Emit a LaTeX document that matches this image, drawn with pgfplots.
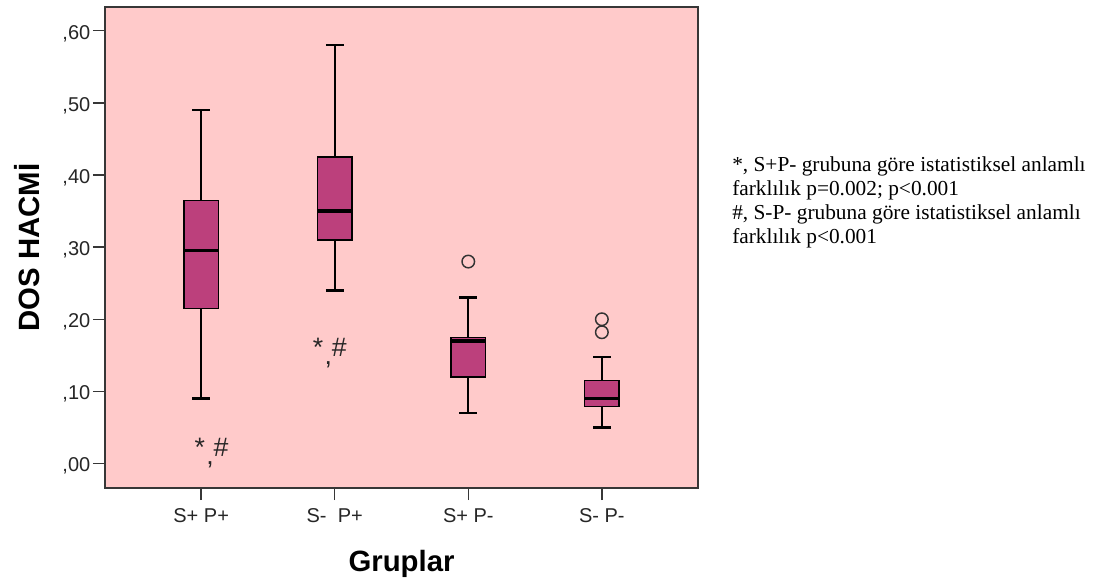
\documentclass[border=0pt]{standalone}
\usepackage{fontspec}
\setmainfont{Liberation Sans}
\newfontfamily\serifnote{Liberation Serif}
\usepackage{pgfplots}
\pgfplotsset{compat=1.18}
\definecolor{panelpink}{RGB}{255,202,202}
\definecolor{boxmagenta}{RGB}{188,64,124}
\definecolor{framegray}{RGB}{55,55,55}

\pgfplotsset{
  qbox/.style={draw=black, fill=boxmagenta, line width=1.1pt},
  qmed/.style={black, line width=2.5pt},
  qwhisk/.style={black, line width=1.8pt},
  qout/.style={only marks, mark=o, mark size=4.7pt,
    mark options={draw=black!80, fill=none, line width=1.1pt}},
}

\begin{document}
\begin{tikzpicture}
\path[use as bounding box] (0,0) rectangle (820.5pt,439.5pt);
\begin{axis}[
  at={(78.75pt,73.5pt)}, anchor=south west,
  scale only axis, width=444.75pt, height=360.75pt,
  xmin=0.28, xmax=4.72, ymin=-0.034, ymax=0.633,
  axis background/.style={fill=panelpink},
  axis line style={framegray, line width=1.1pt},
  xtick={1,2,3,4},
  xticklabels={S+ P+, S-\ \ P+, S+ P-, S- P-},
  ytick={0,0.1,0.2,0.3,0.4,0.5,0.6},
  yticklabels={{,00},{,10},{,20},{,30},{,40},{,50},{,60}},
  tick align=outside, xtick pos=bottom, ytick pos=left,
  major tick length=9pt,
  tick style={framegray, line width=1pt},
  tick label style={font=\fontsize{15}{17}\selectfont, text=black!85},
  xticklabel style={yshift=-3pt},
  yticklabel style={yshift=-2pt, xshift=1.5pt},
  xlabel={Gruplar}, ylabel={DOS HACMİ},
  every axis x label/.style={at={(axis description cs:0.5,-0.1746)}, anchor=base,
    font=\bfseries\fontsize{22}{26}\selectfont},
  every axis y label/.style={at={(axis description cs:-0.1315,0.5)}, rotate=90, anchor=center,
    font=\bfseries\fontsize{22}{26}\selectfont},
  clip=false,
]
% ---- S+ P+ : whiskers 0.09 / 0.49, quartiles 0.215 / 0.365, median 0.295
\addplot[qwhisk] coordinates {(1,0.365) (1,0.49)};
\addplot[qwhisk] coordinates {(0.934,0.49) (1.066,0.49)};
\addplot[qwhisk] coordinates {(1,0.215) (1,0.09)};
\addplot[qwhisk] coordinates {(0.934,0.09) (1.066,0.09)};
\addplot[qbox] coordinates {(0.87,0.215) (1.13,0.215) (1.13,0.365) (0.87,0.365)} -- cycle;
\addplot[qmed] coordinates {(0.87,0.295) (1.13,0.295)};
% ---- S- P+ : whiskers 0.24 / 0.58, quartiles 0.31 / 0.425, median 0.35
\addplot[qwhisk] coordinates {(2,0.425) (2,0.58)};
\addplot[qwhisk] coordinates {(1.934,0.58) (2.066,0.58)};
\addplot[qwhisk] coordinates {(2,0.31) (2,0.24)};
\addplot[qwhisk] coordinates {(1.934,0.24) (2.066,0.24)};
\addplot[qbox] coordinates {(1.87,0.31) (2.13,0.31) (2.13,0.425) (1.87,0.425)} -- cycle;
\addplot[qmed] coordinates {(1.87,0.35) (2.13,0.35)};
% ---- S+ P- : whiskers 0.07 / 0.23, quartiles 0.12 / 0.175, median 0.17
\addplot[qwhisk] coordinates {(3,0.175) (3,0.23)};
\addplot[qwhisk] coordinates {(2.934,0.23) (3.066,0.23)};
\addplot[qwhisk] coordinates {(3,0.12) (3,0.07)};
\addplot[qwhisk] coordinates {(2.934,0.07) (3.066,0.07)};
\addplot[qbox] coordinates {(2.87,0.12) (3.13,0.12) (3.13,0.175) (2.87,0.175)} -- cycle;
\addplot[qmed] coordinates {(2.87,0.17) (3.13,0.17)};
% ---- S- P- : whiskers 0.05 / 0.148, quartiles 0.079 / 0.115, median 0.09
\addplot[qwhisk] coordinates {(4,0.115) (4,0.148)};
\addplot[qwhisk] coordinates {(3.934,0.148) (4.066,0.148)};
\addplot[qwhisk] coordinates {(4,0.079) (4,0.05)};
\addplot[qwhisk] coordinates {(3.934,0.05) (4.066,0.05)};
\addplot[qbox] coordinates {(3.87,0.079) (4.13,0.079) (4.13,0.115) (3.87,0.115)} -- cycle;
\addplot[qmed] coordinates {(3.87,0.09) (4.13,0.09)};
% ---- outliers
\addplot[qout] coordinates {(3,0.28) (4,0.182) (4,0.2)};

% significance markers
\node[anchor=base, font=\fontsize{20}{22}\selectfont, text=black!85]
  at (axis cs:1.078,0.009) {*\hspace{0.05em}\raisebox{-0.3em}{,}\#};
\node[anchor=base, font=\fontsize{20}{22}\selectfont, text=black!85]
  at (axis cs:1.963,0.148) {*\hspace{0.05em}\raisebox{-0.3em}{,}\#};
\end{axis}

\begin{scope}[every node/.style={anchor=base west, inner sep=0pt,
    font=\serifnote\fontsize{16}{18}\selectfont}]
\node at (549pt,310.5pt) {*, S+P- grubuna göre istatistiksel anlamlı};
\node at (549pt,292.5pt) {farklılık p=0.002; p<0.001};
\node at (549pt,274.5pt) {\#, S-P- grubuna göre istatistiksel anlamlı};
\node at (549pt,256.5pt) {farklılık p<0.001};
\end{scope}
\end{tikzpicture}
\end{document}
